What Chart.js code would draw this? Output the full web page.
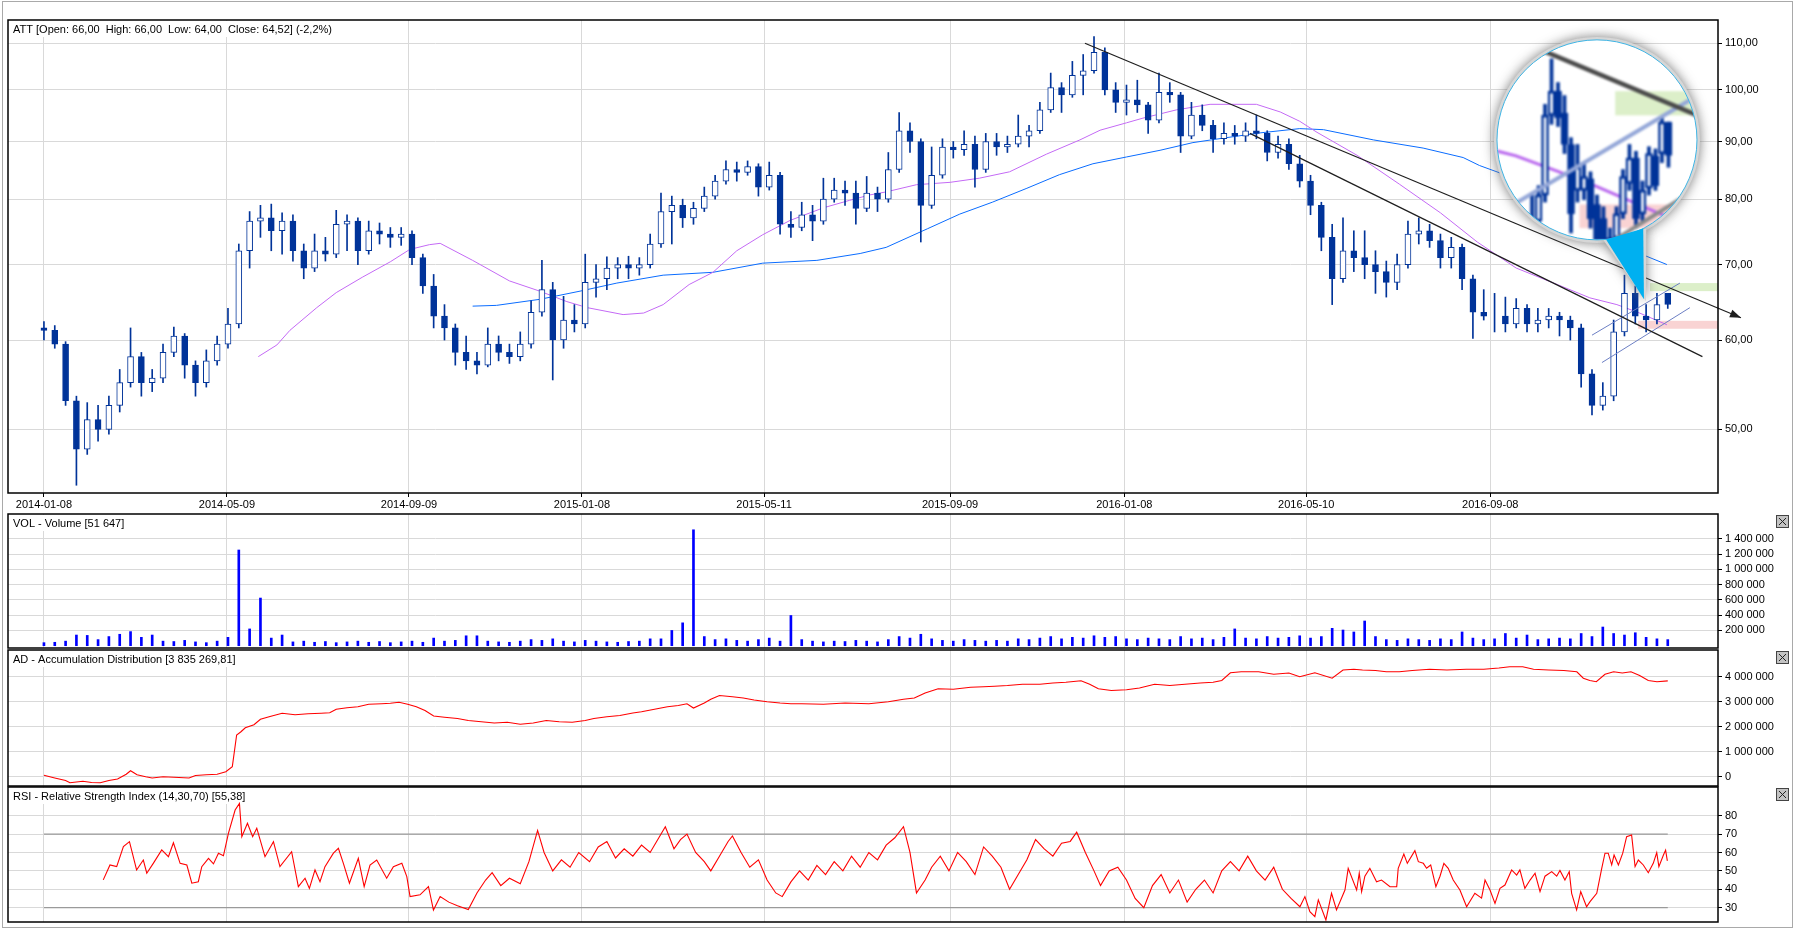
<!DOCTYPE html>
<html>
<head>
<meta charset="utf-8">
<title>ATT</title>
<script src="https://cdn.jsdelivr.net/npm/chart.js@4.4.1/dist/chart.umd.min.js"></script>
<style>
  html, body { margin:0; padding:0; background:#fff; }
  body { width:1794px; height:929px; overflow:hidden; position:relative; }
  #frame { position:absolute; left:2px; top:1px; width:1791px; height:927px; border:1px solid #a9a9a9; box-sizing:border-box; }
  .panel { position:absolute; left:0; }
  #magHolder { position:absolute; left:-4000px; top:0; }
</style>
</head>
<body>
<div id="frame"></div>
<canvas id="cMain" class="panel" width="1794" height="514" style="top:0px"></canvas>
<canvas id="cVol" class="panel" width="1794" height="154" style="top:504px"></canvas>
<canvas id="cAd" class="panel" width="1794" height="156" style="top:640px"></canvas>
<canvas id="cRsi" class="panel" width="1794" height="155" style="top:777px"></canvas>
<div id="magHolder"><canvas id="cMag" width="200" height="200"></canvas></div>
<script>
// ================= DATA =================
const BAR_STEP = 5; // trading days per candle

const priceOpen = [61.5,61.2,59.5,53.0,48.0,51.0,50.0,52.5,55.0,58.0,55.0,
 55.5,58.5,60.5,57.0,55.0,57.5,59.5,62.0,72.0,76.5,
 77.0,75.0,76.5,72.0,69.5,72.0,71.5,76.0,76.5,72.0,
 75.0,74.5,74.0,74.5,71.0,67.0,63.0,61.5,58.5,57.5,
 57.0,59.5,58.5,58.0,59.5,63.5,66.5,60.0,62.5,62.0,
 67.5,68.0,69.5,70.0,69.5,70.0,73.0,78.0,79.0,77.0,
 78.5,80.5,83.0,85.0,84.5,85.5,82.0,84.0,76.0,75.5,
 77.5,76.5,80.0,81.5,81.0,78.5,81.0,80.0,85.0,92.0,
 90.0,79.0,84.0,89.0,88.5,89.5,85.0,90.0,89.0,89.5,
 91.0,92.0,96.0,100.5,99.0,103.0,104.0,108.0,100.0,97.5,
 98.0,97.0,94.0,99.5,99.0,91.0,95.0,93.0,90.5,91.5,
 91.0,92.0,91.5,88.0,89.5,86.0,83.0,79.0,74.0,68.0,
 72.0,71.0,70.0,69.0,67.5,70.0,74.5,75.0,73.5,71.0,
 72.5,68.0,63.5,63.0,63.0,62.0,64.0,62.0,62.5,63.0,
 62.5,61.5,56.0,52.5,53.5,61.0,66.0,63.0,62.5,66.0];
const priceHigh = [62.3,61.8,59.8,53.5,52.8,52.5,53.5,56.5,61.5,58.5,56.5,
 59.5,61.6,60.8,57.5,58.8,60.5,64.0,73.0,78.0,79.0,
 79.2,77.8,77.5,73.0,74.5,74.0,78.2,77.5,77.0,76.5,
 76.2,75.5,75.5,75.0,71.5,68.6,64.5,62.0,60.5,58.5,
 61.5,60.5,59.5,61.0,65.0,70.6,67.5,65.6,64.5,71.5,
 70.0,71.1,71.0,71.2,71.0,74.5,81.0,80.5,80.0,79.5,
 82.0,84.0,86.5,86.3,86.5,86.0,86.3,84.5,78.0,79.5,
 79.0,83.5,83.5,83.0,83.0,83.8,82.0,88.0,95.5,93.5,
 90.5,89.0,90.5,90.0,92.0,91.0,91.5,91.5,91.0,95.0,
 93.0,97.5,103.5,101.5,106.0,107.5,111.5,109.0,101.5,101.0,
 102.0,97.5,103.5,101.5,99.5,97.5,97.0,94.0,93.5,93.0,
 93.5,95.0,92.0,91.0,90.5,87.5,84.0,79.5,76.0,77.0,
 75.0,75.0,72.0,70.5,71.5,76.5,77.0,76.0,74.5,74.0,
 73.0,68.5,66.5,66.0,65.5,65.3,64.5,64.0,64.0,63.5,
 63.0,62.0,56.5,55.0,62.5,68.5,67.0,64.5,66.0,66.0];
const priceLow = [60.0,59.0,52.5,44.6,47.5,48.8,49.5,51.8,54.5,53.5,54.0,
 55.0,58.0,55.5,53.5,54.5,57.0,59.0,61.5,69.5,74.0,
 72.0,71.5,70.5,68.0,69.0,70.5,71.0,72.0,70.0,71.5,
 73.0,72.5,72.8,70.0,66.0,61.5,60.0,57.0,56.5,56.0,
 56.8,57.5,57.2,57.5,59.0,63.0,55.3,59.0,61.0,61.5,
 65.5,66.5,68.0,68.0,68.5,69.5,72.5,73.0,75.5,76.0,
 78.0,80.0,82.5,83.0,84.0,80.5,81.5,74.5,74.0,75.0,
 73.5,76.0,79.5,79.0,76.0,78.0,78.0,79.5,84.5,88.0,
 73.3,78.5,83.5,87.0,87.5,82.0,84.5,87.5,88.0,89.0,
 89.0,91.5,95.5,95.5,98.5,99.0,103.5,99.0,95.5,95.0,
 95.5,91.5,93.5,97.5,88.0,90.5,92.0,88.0,89.5,89.5,
 90.0,90.5,86.5,87.0,85.0,82.0,77.5,72.0,64.5,67.5,
 69.0,68.0,66.0,65.5,66.5,69.5,73.0,72.5,69.5,69.5,
 66.5,60.2,62.5,61.0,61.0,61.5,61.0,61.0,61.5,60.5,
 60.0,54.5,51.5,52.0,53.0,60.5,62.0,61.0,62.0,64.0];
const priceClose = [61.2,59.5,53.0,48.0,51.0,50.0,52.5,55.0,58.0,55.0,55.5,
 58.5,60.5,57.0,55.0,57.5,59.5,62.0,72.0,76.5,77.0,
 75.0,76.5,72.0,69.5,72.0,71.5,76.0,76.5,72.0,75.0,
 74.5,74.0,74.5,71.0,67.0,63.0,61.5,58.5,57.5,57.0,
 59.5,58.5,58.0,59.5,63.5,66.5,60.0,62.5,62.0,67.5,
 68.0,69.5,70.0,69.5,70.0,73.0,78.0,79.0,77.0,78.5,
 80.5,83.0,85.0,84.5,85.5,82.0,84.0,76.0,75.5,77.5,
 76.5,80.0,81.5,81.0,78.5,81.0,80.0,85.0,92.0,90.0,
 79.0,84.0,89.0,88.5,89.5,85.0,90.0,89.0,89.5,91.0,
 92.0,96.0,100.5,99.0,103.0,104.0,108.0,100.0,97.5,98.0,
 97.0,94.0,99.5,99.0,91.0,95.0,93.0,90.5,91.5,91.0,
 92.0,91.5,88.0,89.5,86.0,83.0,79.0,74.0,68.0,72.0,
 71.0,70.0,69.0,67.5,70.0,74.5,75.0,73.5,71.0,72.5,
 68.0,63.5,63.0,63.0,62.0,64.0,62.0,62.5,63.0,62.5,
 61.5,56.0,52.5,53.5,61.0,66.0,63.0,62.5,64.5,64.52];
const volume = [40000,45000,60000,140000,135000,80000,120000,150000,185000,110000,140000,
 60000,55000,70000,50000,40000,60000,110000,1255000,220000,625000,
 100000,140000,50000,60000,45000,55000,40000,50000,60000,45000,
 55000,40000,50000,60000,45000,100000,60000,70000,130000,130000,
 60000,50000,45000,60000,80000,70000,90000,60000,50000,70000,
 60000,50000,45000,55000,60000,90000,90000,200000,300000,1520000,
 120000,80000,90000,70000,60000,80000,100000,60000,396000,80000,
 60000,50000,60000,55000,70000,60000,50000,80000,120000,100000,
 150000,90000,70000,60000,80000,70000,60000,70000,60000,90000,
 80000,100000,120000,90000,110000,100000,130000,110000,120000,90000,
 80000,100000,90000,80000,120000,90000,100000,80000,110000,220000,
 100000,90000,120000,100000,110000,130000,100000,120000,228000,206000,
 180000,324000,120000,80000,70000,90000,80000,70000,90000,80000,
 180000,100000,80000,90000,160000,100000,140000,80000,90000,100000,
 90000,160000,120000,245000,160000,140000,170000,110000,90000,80000];

// daily candles of the last weeks (shown in the magnifier)
const detailDays  = [722,723,724,725,726,727,728,729,730,731,732,733,734,735,736,737,738,739,740,741,742,743,744,745,746,747,748,749,750];
const detailOpen  = [59.5,61.0,60.0,60.5,60.2,59.8,60.8,60.5,61.7,62.8,66.3,67.4,66.4,65.0,63.0,63.0,63.5,62.4,61.8,60.2,61.0,62.0,63.3,64.4,62.0,63.1,64.5,64.6,66.0];
const detailHigh  = [61.5,61.5,61.0,61.4,61.0,61.0,61.5,62.9,63.2,66.8,68.9,67.8,67.2,65.3,65.0,64.2,63.8,62.8,62.3,61.4,62.3,63.9,65.0,64.7,63.4,64.9,64.8,66.2,66.0];
const detailLow   = [59.0,59.5,59.5,59.8,59.3,59.5,60.0,60.0,61.2,62.5,65.9,65.8,64.6,61.2,62.5,62.6,61.4,60.4,60.3,60.0,60.8,61.8,63.0,61.4,61.6,62.8,63.0,64.2,64.0];
const detailClose = [61.0,60.0,60.5,60.2,59.8,60.8,60.5,61.7,62.8,66.3,67.4,66.2,65.0,62.0,64.0,63.6,61.8,60.8,60.6,61.0,62.0,63.6,64.4,61.8,63.0,64.6,63.2,66.0,64.52];

const tickDays   = [0, 84.5, 168.6, 248.5, 332.6, 418.5, 499, 583, 668];
const tickLabels = ['2014-01-08','2014-05-09','2014-09-09','2015-01-08','2015-05-11','2015-09-09','2016-01-08','2016-05-10','2016-09-08'];
const priceTicks  = [50,60,70,80,90,100,110];
const volumeTicks = [200000,400000,600000,800000,1000000,1200000,1400000];
const adTicks     = [0,1000000,2000000,3000000,4000000];
const rsiTicks    = [30,40,50,60,70,80];
const rsiLevels   = [30,70];

// moving averages [trading day, value]
const ma100Points = [[99,58.0],[107.6,59.4],[113.6,61.2],[126,64.1],[135,66.1],[147,68.2],[160,70.4],[169,72.2],[178,72.9],[183,73.1],[198,70.6],[215,67.7],[229,66.3],[241.5,64.9],[251,64.1],[267.5,63.2],[277,63.4],[286,64.5],[298,67.2],[309,68.9],[320,72.0],[332,74.4],[344.6,76.6],[360,78.6],[372,79.8],[381.5,80.7],[389,81.2],[403,82.4],[418.5,82.8],[432,83.5],[446,84.6],[463,87.7],[478.5,90.3],[487.8,92.1],[500,93.5],[507.6,94.4],[523,96.0],[538.6,97.1],[560,97.1],[571,95.6],[580,93.8],[588,91.7],[606.5,87.5],[626,82.5],[645,77.8],[662,73.3],[680,69.5],[699,67.2],[714,65.4],[726.5,64.5],[737,63.4],[749.6,61.9]];
const ma200Points = [[198,64.3],[209,64.4],[229,65.2],[247.6,66.3],[264.6,67.4],[286,68.5],[309,68.9],[332,70.2],[357,70.6],[377,71.6],[389,72.5],[408,75.3],[423,77.6],[438,79.5],[454,81.8],[469,84.1],[484.5,86.0],[500,87.2],[515.5,88.4],[530.7,89.8],[546,90.7],[561.7,91.6],[580,92.4],[591,92.2],[614,90.3],[637,88.8],[655.5,87.1],[663,85.7],[672.5,84.4],[690,81.5],[705,78.5],[720,75.5],[738.6,71.4],[749.6,70.0]];

const adPoints = [[0,60000],[5,-50000],[10,-150000],[12,-240000],[18,-180000],[22,-230000],[26,-240000],[30,-150000],[34,-90000],[38,100000],[40,240000],[43,80000],[47,0],[50,-50000],[55,0],[60,-20000],[67,-50000],[70,50000],[75,80000],[80,100000],[84,200000],[87,400000],[89,1670000],[91,1800000],[93,1960000],[97,2080000],[100,2300000],[104,2400000],[110,2540000],[116,2480000],[122,2520000],[128,2540000],[132,2560000],[135,2700000],[140,2760000],[145,2800000],[150,2900000],[156,2920000],[160,2940000],[164,2980000],[168,2900000],[172,2800000],[176,2650000],[180,2430000],[185,2380000],[191,2330000],[196,2250000],[202,2200000],[208,2150000],[214,2180000],[220,2100000],[226,2150000],[232,2250000],[238,2200000],[244,2180000],[250,2250000],[254,2330000],[260,2400000],[266,2450000],[272,2550000],[276,2600000],[282,2700000],[288,2800000],[293,2850000],[297,2920000],[300,2750000],[305,2950000],[308,3100000],[312,3250000],[318,3200000],[323,3150000],[328,3070000],[334,3000000],[340,2950000],[345,2920000],[350,2920000],[360,2900000],[370,2950000],[381,2920000],[390,3000000],[397,3100000],[402,3150000],[407,3350000],[413,3520000],[420,3500000],[428,3580000],[434,3600000],[439,3620000],[445,3650000],[452,3700000],[460,3700000],[466,3750000],[472,3780000],[479,3840000],[483,3700000],[487,3520000],[493,3450000],[500,3480000],[506,3550000],[513,3700000],[520,3650000],[527,3700000],[534,3750000],[540,3780000],[544,3850000],[548,4160000],[553,4200000],[561,4200000],[568,4100000],[575,4150000],[580,4000000],[587,4160000],[595,3940000],[600,4270000],[605,4300000],[609,4270000],[615,4250000],[620,4200000],[626,4200000],[632,4250000],[640,4300000],[648,4270000],[657,4300000],[665,4300000],[672,4350000],[677,4400000],[683,4400000],[688,4300000],[695,4270000],[702,4250000],[708,4200000],[711,3940000],[714,3850000],[717,3800000],[721,4100000],[725,4200000],[729,4150000],[733,4200000],[737,4050000],[741,3850000],[745,3800000],[750,3835000]];

const rsiPoints = [[27.4,45.1],[30.5,53.2],[33.6,52.3],[36.7,63.2],[39.5,65.9],[42.8,50.5],[45.9,55.9],[47.5,48.7],[50.5,54.1],[54.4,61.4],[57.5,57.7],[59.8,65.3],[62.9,54.1],[66,53.2],[68.3,43.3],[71.3,44.1],[72.9,52.3],[76,56.8],[78.3,53.8],[80.6,59.6],[82.9,58.2],[85.2,70.4],[88.3,83.1],[90.3,86.7],[91.4,68.6],[94,75.9],[96.4,68.6],[98.3,73.2],[102.1,57.7],[106,65.9],[109,52.3],[114.4,60.4],[117.5,41.4],[120.6,46],[122.6,40.5],[125.2,50.5],[127.5,44.1],[129.8,52.3],[133.7,59.6],[136,62.3],[138.3,54.1],[141.1,43.3],[145.2,56.8],[147.9,41.4],[150.6,53.2],[153.7,55.9],[158.3,46.0],[161.4,52.3],[165.3,54.1],[167.6,46.9],[169.1,36],[173.7,37],[177.6,41.5],[179.9,28.7],[183,36],
 [187,33],[191,31],[196,29],[200,38],[204,45],[207,49],[211,42],[215,46],[220,43],[224,55],[228,72],[231,60],[235,50],[239,56],[243,52],[247,60],[252,55],[256,63],[260,66],[264,57],[268,62],[272,58],[276,64],[280,60],[284,68],[287,74],[291,62],[294,67],[297,70],[301,60],[305,55],[308,50],[312,58],[316,66],[318,69],[322,60],[326,52],[330,56],[334,45],[338,38],[341,36],[345,44],[349,50],[353,45],[357,53],[361,48],[365,55],[369,50],[373,58],[377,52],[381,60],[385,56],[389,64],[393,68],[397,74],[400,60],[403,38],[407,45],[410,52],[414,58],[418,50],[422,60],[426,55],[430,48],[434,63],[438,58],[442,52],[446,40],[450,48],[454,56],[458,67],[462,62],[466,58],[470,65],[474,66],[477,71],[481,60],[485,50],[488,42],[492,50],[496,52],[500,45],[504,35],[508,30],[512,42],[516,48],[520,38],[524,45],[528,33],[532,40],[536,45],[540,38],[544,50],[548,55],[552,50],[556,58],[560,50],[564,45],[568,52],[572,40],[576,35],
 [580.1,30.5],[582.4,36],[584.7,27.8],[587,25.1],[588.6,34.2],[592.1,23.3],[594.7,37.8],[597,28.8],[600.9,39.6],[602.4,51.4],[606.3,39.6],[607.5,48.7],[608.6,38.7],[610.1,47.1],[612.4,51.4],[615.5,44.1],[617.8,45],[621.7,41.4],[624.8,41.4],[625.5,51.4],[628.1,59.2],[629.7,54.1],[633.2,61],[634.8,55],[637.1,54.1],[638.6,51.4],[640.5,53.2],[642.9,41.4],[644.8,47.1],[646.6,54.1],[648.6,51.4],[650.9,45],[654,39.6],[657.1,30.5],[660.9,37.8],[664,35.2],[665.6,45],[667.9,39.6],[670.2,32.3],[672.5,40.5],[674.8,42.3],[677.9,50.5],[680.2,47.7],[681.7,50.5],[684,40.5],[686.4,45],[688.7,48.7],[691,38.7],[693.3,47.1],[696.4,49.6],[698.7,47.1],[700.2,50.2],[702.5,45],[704.5,49.6],[705.6,37.8],[707.9,28.8],[709.8,38.7],[712.5,30.5],[714.1,33.3],[717.2,37.8],[719.5,51.4],[721,59.6],[722.5,59.6],[724.1,53.2],[725.2,58.6],[727.2,53.2],[729.2,59.6],[731,68.6],[733.3,69.5],[734.9,52.3],[736.4,55.9],[738.7,53.2],[741,49],[743.3,54.1],[744.9,59.9],[745.9,52.3],[748,58.6],[749,61.3],[749.8,55.4]];

// drawn studies [trading day, price]
const trendMain    = [[480.8,110.0],[783.8,62.8]];
const trendLower   = [[557,91.5],[766,58.0]];
const channelUpper = [[715,60.6],[755.6,67.4]];
const channelLower = [[719.6,57.3],[760.2,64.1]];
const zoneStartDays = [741.8, 736.3];
const zoneLow       = [66.3, 61.4];
const zoneHigh      = [67.4, 62.4];
const magFocus = [739, 65.2];   // magnified spot [day, price]
const magPlace = [717.3, 90.3]; // magnifier centre [day, price]

const titleMain = 'ATT [Open: 66,00  High: 66,00  Low: 64,00  Close: 64,52] (-2,2%)';
const titleVol  = 'VOL - Volume [51 647]';
const titleAd   = 'AD - Accumulation Distribution [3 835 269,81]';
const titleRsi  = 'RSI - Relative Strength Index (14,30,70) [55,38]';

// ================= STYLE / RANGES =================
const X_MIN = -16.6, X_MAX = 773.2;
const P_MIN = 43.9, P_MAX = 115.35;
const CANDLE = '#003399', GRID = '#d9d9d9';
const AXIS_W = 76;
const FAM = "'Liberation Sans', Arial, sans-serif";
const FONT = {family: FAM, size: 11};
Chart.defaults.font.family = FAM;
Chart.defaults.font.size = 11;
Chart.defaults.color = '#000';

const fmtPrice = v => v.toFixed(2).replace('.', ',');
const fmtInt = v => String(Math.round(v)).replace(/\B(?=(\d{3})+(?!\d))/g, ' ');
const pts = arr => arr.map(p => ({x: p[0], y: p[1]}));
const barDays = priceClose.map((_, k) => k * BAR_STEP);
const lastDay = barDays[barDays.length - 1];

// ================= PLUGINS =================
const panelPlugin = {
  id: 'panel',
  beforeDatasetsDraw(chart, args, o) {
    if (!o || !o.title) return;
    const {ctx, chartArea: a} = chart;
    ctx.save();
    ctx.font = '11px ' + FAM;
    const w = ctx.measureText(o.title).width;
    ctx.fillStyle = '#fff';
    ctx.fillRect(a.left + 1, a.top + 1, w + 9, 16);
    ctx.fillStyle = '#000';
    ctx.textBaseline = 'middle';
    ctx.fillText(o.title, a.left + 5, a.top + 9.5);
    ctx.restore();
  },
  afterDraw(chart, args, o) {
    if (!o || !o.border) return;
    const {ctx, chartArea: a} = chart;
    ctx.save();
    ctx.strokeStyle = '#000';
    ctx.lineWidth = 1.5;
    ctx.strokeRect(a.left, a.top, a.right - a.left, a.bottom - a.top);
    if (o.close) {
      const bx = a.right + 58.5, by = a.top + 1.5, s = 12;
      ctx.fillStyle = '#c3c3c3';
      ctx.fillRect(bx, by, s, s);
      ctx.lineWidth = 1;
      ctx.strokeStyle = '#444';
      ctx.strokeRect(bx, by, s, s);
      ctx.beginPath();
      ctx.moveTo(bx + 2.5, by + 2.5); ctx.lineTo(bx + s - 2.5, by + s - 2.5);
      ctx.moveTo(bx + s - 2.5, by + 2.5); ctx.lineTo(bx + 2.5, by + s - 2.5);
      ctx.strokeStyle = '#222';
      ctx.stroke();
    }
    ctx.restore();
  }
};

const zonesPlugin = {
  id: 'zones',
  beforeDatasetsDraw(chart, args, o) {
    if (!o || !o.on) return;
    const {ctx, chartArea: a, scales: {x, y}} = chart;
    ctx.save();
    ctx.beginPath(); ctx.rect(a.left, a.top, a.right - a.left, a.bottom - a.top); ctx.clip();
    const colors = ['#dcefc9', '#f9d3d3'];
    zoneStartDays.forEach((d, i) => {
      const x0 = x.getPixelForValue(d);
      const y0 = y.getPixelForValue(zoneHigh[i]), y1 = y.getPixelForValue(zoneLow[i]);
      ctx.fillStyle = colors[i];
      ctx.fillRect(x0, y0, a.right - x0, y1 - y0);
    });
    ctx.restore();
  }
};

const arrowPlugin = {
  id: 'arrowHead',
  afterDatasetsDraw(chart, args, o) {
    if (!o || !o.on) return;
    const {ctx, scales: {x, y}} = chart;
    const x1 = x.getPixelForValue(trendMain[0][0]), y1 = y.getPixelForValue(trendMain[0][1]);
    const x2 = x.getPixelForValue(trendMain[1][0]), y2 = y.getPixelForValue(trendMain[1][1]);
    const ang = Math.atan2(y2 - y1, x2 - x1), L = 11, W = 4;
    const bx = x2 - L * Math.cos(ang), by = y2 - L * Math.sin(ang);
    ctx.save();
    ctx.fillStyle = '#1e1e1e';
    ctx.beginPath();
    ctx.moveTo(x2, y2);
    ctx.lineTo(bx + W * Math.sin(ang), by - W * Math.cos(ang));
    ctx.lineTo(bx - W * Math.sin(ang), by + W * Math.cos(ang));
    ctx.closePath(); ctx.fill();
    ctx.restore();
  }
};

const magnifierPlugin = {
  id: 'magnifier',
  afterDraw(chart, args, o) {
    if (!o || !o.canvas) return;
    const {ctx, scales: {x, y}} = chart;
    const R = o.radius;
    const cx = x.getPixelForValue(magPlace[0]), cy = y.getPixelForValue(magPlace[1]);
    const tx = x.getPixelForValue(magFocus[0]), ty = y.getPixelForValue(magFocus[1]);
    const a1 = 1.48, a2 = 1.09;
    const p1 = [cx + R * Math.cos(a1), cy + R * Math.sin(a1)];
    const p2 = [cx + R * Math.cos(a2), cy + R * Math.sin(a2)];
    // soft halo
    ctx.save();
    ctx.shadowColor = 'rgba(110,110,110,0.9)';
    ctx.shadowBlur = 12;
    ctx.fillStyle = '#d6d6d6';
    ctx.beginPath(); ctx.arc(cx, cy, R + 3, 0, Math.PI * 2); ctx.fill();
    ctx.beginPath(); ctx.moveTo(p1[0] - 3, p1[1]); ctx.lineTo(p2[0] + 3, p2[1]); ctx.lineTo(tx + 2, ty + 2); ctx.closePath(); ctx.fill();
    ctx.restore();
    // magnified content
    ctx.save();
    ctx.beginPath(); ctx.arc(cx, cy, R, 0, Math.PI * 2); ctx.clip();
    ctx.fillStyle = '#fff';
    ctx.fillRect(cx - R, cy - R, 2 * R, 2 * R);
    ctx.filter = 'blur(0.8px)';
    ctx.drawImage(o.canvas, cx - R, cy - R, 2 * R, 2 * R);
    ctx.restore();
    ctx.save();
    ctx.strokeStyle = '#3fb5e5';
    ctx.lineWidth = 1;
    ctx.beginPath(); ctx.arc(cx, cy, R, 0, Math.PI * 2); ctx.stroke();
    ctx.fillStyle = '#00b0f0';
    ctx.beginPath(); ctx.moveTo(p1[0], p1[1]); ctx.lineTo(p2[0], p2[1]); ctx.lineTo(tx, ty); ctx.closePath(); ctx.fill();
    ctx.restore();
  }
};

// ================= SCALE HELPERS =================
function xScale(showLabels, min, max) {
  return {
    type: 'linear', min: min, max: max, bounds: 'data', offset: false,
    afterBuildTicks: s => { s.ticks = tickDays.map(v => ({value: v})); },
    ticks: {display: showLabels, autoSkip: false, maxRotation: 0, minRotation: 0, padding: 1, color: '#000', font: FONT,
            callback: (v, i) => tickLabels[i]},
    grid: {color: GRID, lineWidth: 1, drawTicks: showLabels, tickLength: 4, tickColor: '#000', offset: false},
    border: {display: false},
    afterFit: s => { s.height = showLabels ? 21 : 0; }
  };
}
function yScale(type, min, max, ticks, fmt) {
  return {
    type: type, position: 'right', min: min, max: max, bounds: 'data',
    afterBuildTicks: s => { s.ticks = ticks.map(v => ({value: v})); },
    ticks: {autoSkip: false, padding: 3, color: '#000', font: FONT, callback: v => fmt(v)},
    grid: {color: GRID, lineWidth: 1, drawTicks: true, tickLength: 4, tickColor: '#000'},
    border: {display: false},
    afterFit: s => { s.width = AXIS_W; }
  };
}
function baseOptions(padTop, padBottom) {
  return {
    responsive: false, maintainAspectRatio: false, animation: false, devicePixelRatio: 1, events: [],
    layout: {padding: {left: 8, right: 0, top: padTop, bottom: padBottom}},
    plugins: {legend: {display: false}, tooltip: {enabled: false}}
  };
}
function candleSets(days, o, h, l, c, bodyW, wickW, border) {
  return [
    {type: 'bar', data: days.map((d, i) => ({x: d, y: [o[i], c[i]]})),
     backgroundColor: c.map((v, i) => v >= o[i] ? '#ffffff' : CANDLE),
     borderColor: CANDLE, borderWidth: border, borderSkipped: false,
     barThickness: bodyW, grouped: false, order: 5},
    {type: 'bar', data: days.map((d, i) => ({x: d, y: [l[i], h[i]]})),
     backgroundColor: CANDLE, borderWidth: 0, barThickness: wickW, grouped: false, order: 6}
  ];
}
function lineSet(points, color, width, order, extra) {
  return Object.assign({type: 'line', data: pts(points), borderColor: color, borderWidth: width,
    pointRadius: 0, tension: 0, fill: false, order: order}, extra || {});
}

// ================= MAGNIFIER (inner chart) =================
const MAG_R = 100, MAG_ZOOM = 3;
const pxPerDay = 1710 / (X_MAX - X_MIN);
const pxPerDecade = 473 / (Math.log10(P_MAX) - Math.log10(P_MIN));
const halfDays = MAG_R / MAG_ZOOM / pxPerDay;
const halfLog = MAG_R / MAG_ZOOM / pxPerDecade;
const magOpts = baseOptions(0, 0);
magOpts.layout.padding = 0;
magOpts.scales = {
  x: {type: 'linear', display: false, offset: false, bounds: 'data', min: magFocus[0] - halfDays, max: magFocus[0] + halfDays},
  y: {type: 'logarithmic', display: false, bounds: 'data',
      min: Math.pow(10, Math.log10(magFocus[1]) - halfLog), max: Math.pow(10, Math.log10(magFocus[1]) + halfLog)}
};
magOpts.plugins.zones = {on: true};
const magChart = new Chart(document.getElementById('cMag'), {
  type: 'bar',
  data: {datasets: [
    ...candleSets(detailDays, detailOpen, detailHigh, detailLow, detailClose, 7, 3, 2.5),
    lineSet(ma100Points, '#b865ee', 3, 7),
    lineSet(trendMain, '#4a4a4a', 4.5, 1),
    lineSet(channelUpper, '#94a7d8', 4, 1),
    lineSet(channelLower, '#8c8c8c', 4, 1)
  ]},
  options: magOpts,
  plugins: [zonesPlugin]
});

// ================= MAIN PRICE CHART =================
const mainOpts = baseOptions(20, 0);
mainOpts.scales = {x: xScale(true, X_MIN, X_MAX), y: yScale('logarithmic', P_MIN, P_MAX, priceTicks, fmtPrice)};
mainOpts.plugins.panel = {title: titleMain, border: true};
mainOpts.plugins.zones = {on: true};
mainOpts.plugins.arrowHead = {on: true};
mainOpts.plugins.magnifier = {canvas: magChart.canvas, radius: MAG_R};
new Chart(document.getElementById('cMain'), {
  type: 'bar',
  data: {datasets: [
    ...candleSets(barDays, priceOpen, priceHigh, priceLow, priceClose, 6, 1, 1),
    lineSet(ma100Points, '#c46af5', 1, 7),
    lineSet(ma200Points, '#0a6cff', 1, 7),
    lineSet(trendMain, '#1e1e1e', 1.2, 1, {clip: false}),
    lineSet(trendLower, '#1e1e1e', 1.2, 1, {clip: false}),
    lineSet(channelUpper, '#6c7fc4', 1, 1),
    lineSet(channelLower, '#6c7fc4', 1, 1)
  ]},
  options: mainOpts,
  plugins: [zonesPlugin, panelPlugin, arrowPlugin, magnifierPlugin]
});

// ================= VOLUME =================
const volOpts = baseOptions(10, 10);
volOpts.scales = {x: xScale(false, X_MIN, X_MAX), y: yScale('linear', -30000, 1727000, volumeTicks, fmtInt)};
volOpts.plugins.panel = {title: titleVol, border: true, close: true};
new Chart(document.getElementById('cVol'), {
  type: 'bar',
  data: {datasets: [{type: 'bar', data: barDays.map((d, i) => ({x: d, y: volume[i]})),
    backgroundColor: '#0000ff', barThickness: 2, grouped: false}]},
  options: volOpts,
  plugins: [panelPlugin]
});

// ================= ACCUMULATION / DISTRIBUTION =================
const adOpts = baseOptions(10, 10);
adOpts.scales = {x: xScale(false, X_MIN, X_MAX), y: yScale('linear', -370000, 5070000, adTicks, fmtInt)};
adOpts.plugins.panel = {title: titleAd, border: true, close: true};
new Chart(document.getElementById('cAd'), {
  type: 'line',
  data: {datasets: [lineSet(adPoints, '#ff0000', 1.1, 1)]},
  options: adOpts,
  plugins: [panelPlugin]
});

// ================= RSI =================
const rsiOpts = baseOptions(10, 10);
rsiOpts.scales = {x: xScale(false, X_MIN, X_MAX), y: yScale('linear', 22.2, 95.6, rsiTicks, v => String(v))};
rsiOpts.plugins.panel = {title: titleRsi, border: true, close: true};
new Chart(document.getElementById('cRsi'), {
  type: 'line',
  data: {datasets: [
    lineSet(rsiPoints, '#ff0000', 1.1, 1),
    ...rsiLevels.map(lv => lineSet([[barDays[0], lv], [lastDay, lv]], '#9a9a9a', 1.3, 2))
  ]},
  options: rsiOpts,
  plugins: [panelPlugin]
});
</script>
</body>
</html>
